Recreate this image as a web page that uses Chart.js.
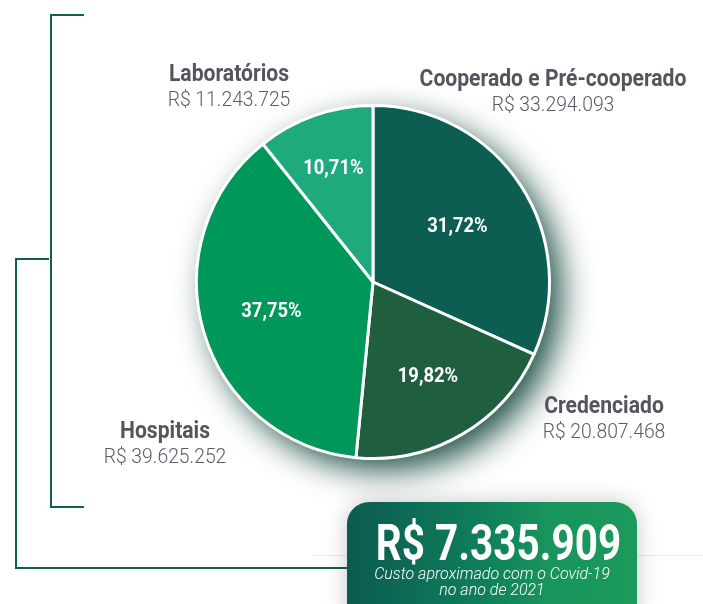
<!DOCTYPE html>
<html>
<head>
<meta charset="utf-8">
<script src="https://cdn.jsdelivr.net/npm/chart.js@4/dist/chart.umd.min.js"></script>
<style>
  html, body { margin: 0; padding: 0; background: #fff; }
  body { width: 703px; height: 604px; position: relative; overflow: hidden; }
  #wrap { position: absolute; left: 0; top: 0; width: 703px; height: 604px; }
  .ln { position: absolute; background: #0f5f52; }
  .faint { position: absolute; background: rgba(0,0,0,0.07); height: 1px; }
  #total {
    position: absolute; left: 347px; top: 502px; width: 290px; height: 130px;
    border-radius: 22px;
    background: linear-gradient(90deg, #0b5b50 0%, #0f7d5b 45%, #18955b 70%, #1b9a5c 100%);
    box-shadow: 0 0 22px rgba(0,0,0,0.22);
    color: #fff; text-align: center;
    font-family: Roboto, sans-serif;
  }
  #total .big {
    display: inline-block; white-space: nowrap;
    font-weight: bold; font-size: 50px; line-height: 50px; margin-top: 16px;
    transform: scaleX(0.81); transform-origin: center;
  }
  #total .sub { font-style: italic; font-weight: 300; font-size: 16px; line-height: 16px; margin-top: -2px; }
</style>
</head>
<body>
<div class="ln" style="left:51px; top:14px; width:33px; height:2px"></div>
<div class="ln" style="left:50px; top:14px; width:2px; height:494px"></div>
<div class="ln" style="left:50px; top:506px; width:34px; height:2px"></div>
<div class="ln" style="left:16px; top:258px; width:33px; height:2px"></div>
<div class="ln" style="left:15px; top:258px; width:2px; height:311px"></div>
<div class="ln" style="left:15px; top:567px; width:340px; height:2px"></div>
<div class="faint" style="left:313px; top:555px; width:390px"></div>
<div id="wrap"><canvas id="chart-pie"></canvas></div>
<div id="total"><div class="big" id="total-value"></div><div class="sub" id="total-sub"></div></div>
<script>
const categories = ['Cooperado e Pré-cooperado', 'Credenciado', 'Hospitais', 'Laboratórios']
const amounts = [33294093, 20807468, 39625252, 11243725]
const sliceColors = ['#0c5e52', '#1f5f40', '#00975a', '#1eaa7c']
const totalCost = 7335909
const totalCaption = ['Custo aproximado com o Covid-19', 'no ano de 2021']

const NAME_COLOR = '#55545f'
const VALUE_COLOR = '#5b5b66'

const fmtBRL = (v) => 'R$ ' + v.toLocaleString('pt-BR')
const total = amounts.reduce((a, b) => a + b, 0)
const shareText = (v) => (v / total * 100).toFixed(2).replace('.', ',') + '%'

document.getElementById('total-value').textContent = fmtBRL(totalCost)
document.getElementById('total-sub').innerHTML = totalCaption.join('<br>')

// condensed look: squeeze the text horizontally around its anchor
function narrowText(ctx, text, x, y, font, sx) {
  ctx.save()
  ctx.translate(x, y)
  ctx.scale(sx, 1)
  ctx.font = font
  ctx.fillText(text, 0, 0)
  ctx.restore()
}

// soft shadow behind the whole pie
const pieShadow = {
  id: 'pieShadow',
  beforeDatasetsDraw(chart) {
    const arc = chart.getDatasetMeta(0).data[0]
    if (!arc) return
    const ctx = chart.ctx
    ctx.save()
    ctx.shadowColor = 'rgba(8, 62, 52, 0.9)'
    ctx.shadowBlur = 32
    ctx.shadowOffsetX = 12
    ctx.shadowOffsetY = 12
    ctx.beginPath()
    ctx.arc(arc.x, arc.y, arc.outerRadius, 0, Math.PI * 2)
    ctx.fillStyle = '#fff'
    ctx.fill()
    ctx.restore()
  },
}

// percentages inside slices, names and amounts outside
const pieLabels = {
  id: 'pieLabels',
  afterDatasetsDraw(chart) {
    const ctx = chart.ctx
    const meta = chart.getDatasetMeta(0)
    const radial = [0.57, 0.62, 0.6, 0.68]
    ctx.save()
    ctx.textAlign = 'center'
    ctx.textBaseline = 'middle'
    ctx.fillStyle = '#fff'
    meta.data.forEach((arc, i) => {
      const mid = (arc.startAngle + arc.endAngle) / 2
      const r = arc.outerRadius * radial[i]
      narrowText(ctx, shareText(amounts[i]), arc.x + Math.cos(mid) * r, arc.y + Math.sin(mid) * r,
        'bold 20px Roboto, sans-serif', 0.92)
    })

    const cx = meta.data[0].x
    const cy = meta.data[0].y
    // anchor offsets from pie centre (x centre, name baseline)
    const anchors = [[180, -196], [231, 131], [-208, 156], [-144, -201]]
    ctx.textBaseline = 'alphabetic'
    categories.forEach((name, i) => {
      const x = cx + anchors[i][0]
      const y = cy + anchors[i][1]
      ctx.fillStyle = NAME_COLOR
      narrowText(ctx, name, x, y, 'bold 24px Roboto, sans-serif', 0.88)
      ctx.fillStyle = VALUE_COLOR
      narrowText(ctx, fmtBRL(amounts[i]), x, y + 25, '300 21px Roboto, sans-serif', 0.92)
    })
    ctx.restore()
  },
}

new Chart(document.getElementById('chart-pie'), {
  type: 'pie',
  data: {
    labels: categories,
    datasets: [
      {
        data: amounts,
        backgroundColor: sliceColors,
        borderColor: '#fff',
        borderWidth: 3,
        hoverOffset: 0,
      },
    ],
  },
  options: {
    responsive: true,
    maintainAspectRatio: false,
    animation: false,
    layout: { padding: { left: 195, right: 152, top: 104, bottom: 144 } },
    plugins: {
      legend: { display: false },
      tooltip: { enabled: false },
    },
  },
  plugins: [pieShadow, pieLabels],
})
</script>
</body>
</html>
